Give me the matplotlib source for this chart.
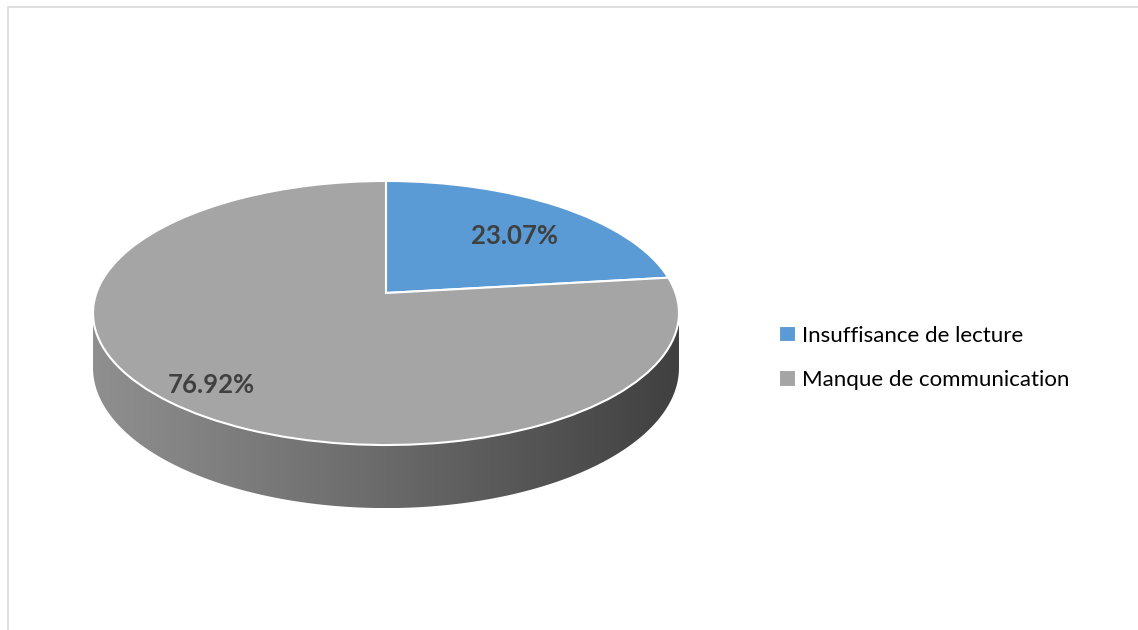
import matplotlib.pyplot as plt
import numpy as np
from matplotlib.patches import Polygon, Rectangle
from matplotlib.colors import LinearSegmentedColormap
from matplotlib.transforms import Transform

# Data
labels = ['Insuffisance de lecture', 'Manque de communication']
values = [23.07, 76.92]
colors = ['#5B9BD5', '#A5A5A5']

plt.rcParams['font.family'] = ['Lato', 'DejaVu Sans']

# perspective view of the disc (pixel space of the figure)
CX, CY = 386.0, 293.0     # apex of the pie on screen
SX, SY = 289.6, 129.0     # horizontal / vertical scale
K = 0.1515                # perspective strength
DEPTH = 53.5              # thickness of the disc


class Tilt(Transform):
    input_dims = output_dims = 2

    def transform_non_affine(self, values):
        values = np.asarray(values, dtype=float)
        u, v = values[:, 0], values[:, 1]
        w = 1 + K * v
        return np.column_stack([CX + SX * u / w, CY - SY * v / w])


tilt = Tilt()

fig = plt.figure(figsize=(11.38, 6.3), dpi=100)

# chart area border (light gray, top and left only visible)
fig.add_artist(Rectangle((8 / 1138, -0.5), 2, 0.5 + (1 - 6.5 / 630),
                         transform=fig.transFigure, fill=False,
                         edgecolor='#d9d9d9', linewidth=1.2))

ax = fig.add_axes([0, 0, 1, 1])

# top face
wedges, texts, autotexts = ax.pie(
    values,
    colors=colors,
    startangle=90,
    counterclock=False,
    autopct='%1.2f%%',
    wedgeprops=dict(edgecolor='white', linewidth=1.5, zorder=2),
    textprops=dict(fontsize=18.5, fontweight='bold', color='#404040'),
)
for wd in wedges:
    wd.set_transform(tilt + ax.transData)

# value labels placed on the tilted face
label_r = [0.66, 0.84]
label_dx = [11, 4]
for txt, wd, v, r, dx in zip(autotexts, wedges, values, label_r, label_dx):
    mid = np.deg2rad((wd.theta1 + wd.theta2) / 2)
    px, py = tilt.transform(np.array([[r * np.cos(mid), r * np.sin(mid)]]))[0]
    txt.set_position((px + dx, py + 2))
    txt.set_text(f'{v:.2f}%')
    txt.set_zorder(3)

# side of the disc (visible front part), gradient filled
t = np.linspace(np.pi + np.arcsin(K), 2 * np.pi - np.arcsin(K), 300)
edge = tilt.transform(np.column_stack([np.cos(t), np.sin(t)]))
drop = DEPTH / (1 + K * np.sin(t))
bottom = edge + np.column_stack([np.zeros_like(drop), drop])
side = Polygon(np.vstack([edge, bottom[::-1]]), closed=True,
               facecolor='none', edgecolor='none')
ax.add_patch(side)
side_cmap = LinearSegmentedColormap.from_list('side', ['#8f8f8f', '#6a6a6a', '#404040'])
grad = np.linspace(0, 1, 256).reshape(1, -1)
im = ax.imshow(grad, cmap=side_cmap,
               extent=(edge[:, 0].min(), edge[:, 0].max(), bottom[:, 1].max(), CY),
               aspect='auto', zorder=1)
im.set_clip_path(side)

ax.set_aspect('auto')
ax.set_xlim(0, 1138)
ax.set_ylim(630, 0)
ax.axis('off')

# legend
fig.legend(wedges, labels, loc='center left',
           bbox_to_anchor=(759 / 1138, 1 - 358 / 630),
           frameon=False, fontsize=16, handlelength=0.75,
           handleheight=0.75, handletextpad=0.3, labelspacing=1.1)

fig.savefig('out.png', dpi=100)
